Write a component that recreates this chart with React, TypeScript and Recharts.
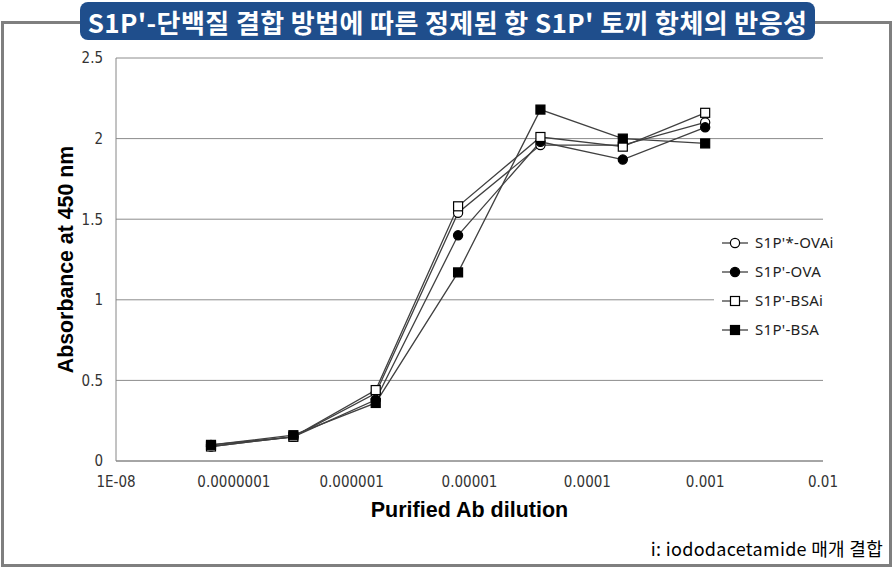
import React from 'react';
import { LineChart, Line, XAxis, YAxis, CartesianGrid } from 'recharts';

// dilution factor of purified antibody (x) and absorbance at 450 nm (y)
const dilutions = [6.4e-8, 3.2e-7, 1.6e-6, 8e-6, 4e-5, 2e-4, 1e-3];
const ovaI = [0.09, 0.15, 0.42, 1.54, 1.96, 1.96, 2.1];
const ova = [0.1, 0.15, 0.38, 1.4, 1.98, 1.87, 2.07];
const bsaI = [0.09, 0.15, 0.44, 1.58, 2.01, 1.95, 2.16];
const bsa = [0.1, 0.16, 0.36, 1.17, 2.18, 2.0, 1.97];

const xTicks = [1e-8, 1e-7, 1e-6, 1e-5, 1e-4, 1e-3, 1e-2];
const xTickLabels = ['1E-08', '0.0000001', '0.000001', '0.00001', '0.0001', '0.001', '0.01'];
const yTicks = [0, 0.5, 1, 1.5, 2, 2.5];

const seriesNames = ["S1P'*-OVAi", "S1P'-OVA", "S1P'-BSAi", "S1P'-BSA"];

const data = dilutions.map((d, i) => ({
  dilution: d,
  ovaI: ovaI[i],
  ova: ova[i],
  bsaI: bsaI[i],
  bsa: bsa[i],
}));

const series = [
  { key: 'ovaI', name: seriesNames[0], shape: 'circle', fill: '#fff' },
  { key: 'ova', name: seriesNames[1], shape: 'circle', fill: '#000' },
  { key: 'bsaI', name: seriesNames[2], shape: 'square', fill: '#fff' },
  { key: 'bsa', name: seriesNames[3], shape: 'square', fill: '#000' },
];

const LINE = '#404040';
const tickFont = '"DejaVu Sans Condensed", "Liberation Sans", sans-serif';
const titleFont = '"Liberation Sans", Arial, sans-serif';

const Marker = ({ cx, cy, shape, fill }: any) =>
  shape === 'square' ? (
    <rect x={cx - 4.5} y={cy - 4.5} width={9} height={9} fill={fill} stroke="#000" strokeWidth={1.2} />
  ) : (
    <circle cx={cx} cy={cy} r={4.6} fill={fill} stroke="#000" strokeWidth={1.2} />
  );

// legend sits over the plot with a white box, like the original
const LegendBox = () => (
  <div style={{ position: 'absolute', left: 714, top: 228, width: 135, background: '#fff', padding: '0 0 0 8px' }}>
    {series.map((s) => (
      <div key={s.key} style={{ display: 'flex', alignItems: 'center', height: 29 }}>
        <svg width={26} height={14}>
          <line x1={0} y1={7} x2={26} y2={7} stroke={LINE} strokeWidth={1.3} />
          <Marker cx={13} cy={7} shape={s.shape} fill={s.fill} />
        </svg>
        <span
          style={{
            marginLeft: 7, fontSize: 15, letterSpacing: 0.3, lineHeight: 1,
            fontFamily: '"Noto Sans", sans-serif', color: '#222',
          }}
        >
          {s.name}
        </span>
      </div>
    ))}
  </div>
);

export default function App() {
  return (
    <div style={{ position: 'absolute', left: 0, top: 0, width: 895, height: 570, background: '#fff' }}>
      <div
        style={{
          position: 'absolute', left: 1, top: 21, width: 891, height: 546,
          border: '3px solid #7f7f7f', boxSizing: 'border-box',
        }}
      />
      <LineChart
        width={895}
        height={570}
        data={data}
        margin={{ top: 58, right: 72, bottom: 49, left: 46 }}
        style={{ position: 'absolute', left: 0, top: 0 }}
      >
        <CartesianGrid vertical={false} stroke="#8c8c8c" />
        <XAxis
          dataKey="dilution"
          type="number"
          scale="log"
          domain={[1e-8, 1e-2]}
          ticks={xTicks}
          allowDataOverflow
          height={60}
          stroke="#868686"
          tickLine={false}
          tickMargin={9}
          tick={{ fill: '#333', fontSize: 15, fontFamily: tickFont }}
          tickFormatter={(_v: number, i: number) => xTickLabels[i]}
          label={{
            value: 'Purified Ab dilution',
            position: 'insideBottom',
            offset: 4,
            style: { fontSize: 21.5, fontWeight: 'bold', fill: '#000', fontFamily: titleFont },
          }}
        />
        <YAxis
          type="number"
          domain={[0, 2.5]}
          ticks={yTicks}
          width={70}
          stroke="#868686"
          tickLine={false}
          tickMargin={7}
          tick={{ fill: '#333', fontSize: 15, fontFamily: tickFont }}
          label={{
            value: 'Absorbance at 450 nm',
            angle: -90,
            position: 'insideLeft',
            offset: 19,
            style: { textAnchor: 'middle', fontSize: 21.3, fontWeight: 'bold', fill: '#000', fontFamily: titleFont },
          }}
        />
        {series.map((s) => (
          <Line
            key={s.key}
            dataKey={s.key}
            name={s.name}
            stroke={LINE}
            strokeWidth={1.3}
            isAnimationActive={false}
            dot={(p: any) => <Marker key={`${s.key}-${p.index}`} cx={p.cx} cy={p.cy} shape={s.shape} fill={s.fill} />}
            activeDot={false}
          />
        ))}
      </LineChart>
      <LegendBox />
      <div
        style={{
          position: 'absolute', left: 80, top: 2, width: 735, height: 38,
          background: '#1f4e8c', borderRadius: 8, color: '#fff',
          fontFamily: '"Noto Sans CJK KR", sans-serif', fontWeight: 'bold', fontSize: 26, letterSpacing: 0.4,
          display: 'flex', alignItems: 'center', justifyContent: 'center', whiteSpace: 'nowrap',
        }}
      >
        S1P'-단백질 결합 방법에 따른 정제된 항 S1P' 토끼 항체의 반응성
      </div>
      <div
        style={{
          position: 'absolute', right: 12, top: 539, fontSize: 18, lineHeight: 1, letterSpacing: 0.3,
          color: '#000', fontFamily: '"Noto Sans CJK KR", sans-serif', whiteSpace: 'nowrap',
        }}
      >
        i: iododacetamide 매개 결합
      </div>
    </div>
  );
}
